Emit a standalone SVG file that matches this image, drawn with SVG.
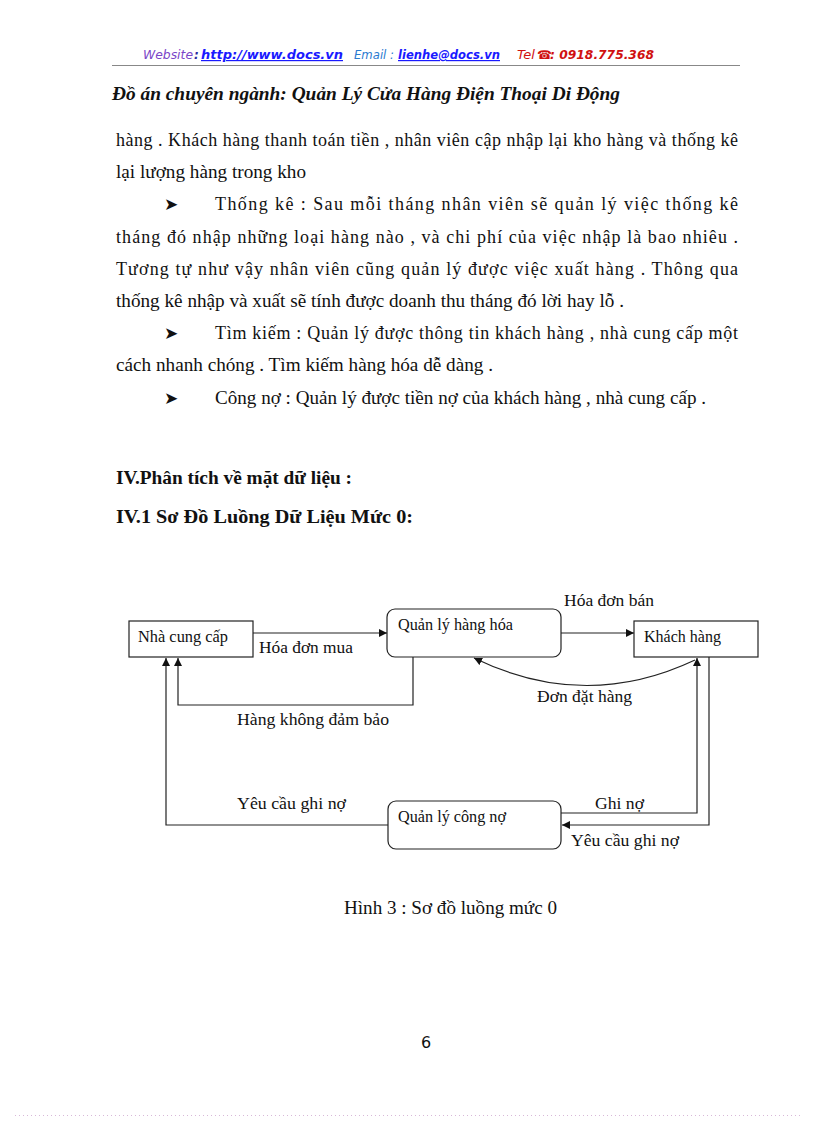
<svg xmlns="http://www.w3.org/2000/svg" width="816" height="1123" viewBox="0 0 816 1123">
<style>
.body{font-family:"Liberation Serif","Times New Roman",serif;font-size:18px;fill:#111}
.head{font-family:"Liberation Serif","Times New Roman",serif;font-size:18px;font-weight:bold;fill:#111}
.lbl{font-family:"Liberation Serif","Times New Roman",serif;font-size:16.5px;fill:#111}
.box{fill:#fff;stroke:#222;stroke-width:1.2}
.con{fill:none;stroke:#222;stroke-width:1.2}
.bul{font-family:"DejaVu Sans",sans-serif;font-size:17px;fill:#111}
.web{font-family:"DejaVu Sans",sans-serif;font-size:12px;font-style:italic}
</style>
<defs>
<marker id="arr" viewBox="0 0 10 10" refX="10" refY="5" markerWidth="8" markerHeight="8" markerUnits="userSpaceOnUse" orient="auto">
<path d="M0,0 L10,5 L0,10 z" fill="#111"/>
</marker>
</defs>
<rect width="816" height="1123" fill="#fff"/>

<!-- header -->
<g id="header">
<text class="web" x="143" y="59" fill="#7a45c8" textLength="50" lengthAdjust="spacingAndGlyphs">Website</text>
<text class="web" x="194" y="59" fill="#2a2aa0" font-weight="bold">:</text>
<text class="web" x="201" y="59" fill="#1a1aff" font-weight="bold" text-decoration="underline" textLength="142" lengthAdjust="spacingAndGlyphs">http://www.docs.vn </text>
<text class="web" x="354" y="59" fill="#2a7ad0" textLength="40" lengthAdjust="spacingAndGlyphs">Email :</text>
<text class="web" x="398" y="59" fill="#1a1aff" font-weight="bold" text-decoration="underline" textLength="102" lengthAdjust="spacingAndGlyphs">lienhe@docs.vn </text>
<text class="web" x="517" y="59" fill="#d01010" textLength="18" lengthAdjust="spacingAndGlyphs">Tel</text>
<text class="web" x="537" y="59" fill="#d01010" font-style="normal">☎</text>
<text class="web" x="550" y="59" fill="#d01010" font-weight="bold" textLength="104" lengthAdjust="spacingAndGlyphs">: 0918.775.368</text>
</g>
<line x1="112" y1="65.5" x2="740" y2="65.5" stroke="#888" stroke-width="1"/>
<text x="112" y="100" font-family="Liberation Serif,'Times New Roman',serif" font-size="19" font-weight="bold" font-style="italic" fill="#111" textLength="508" lengthAdjust="spacingAndGlyphs">Đồ án chuyên ngành: Quản Lý Cửa Hàng Điện Thoại Di Động</text>

<!-- body text -->
<text class="body" x="116" y="146" textLength="622" lengthAdjust="spacing">hàng . Khách hàng thanh toán tiền , nhân viên cập nhập lại kho hàng và thống kê</text>
<text class="body" x="116" y="178" textLength="190" lengthAdjust="spacingAndGlyphs">lại lượng hàng trong kho</text>
<text class="bul" x="164" y="210">➤</text>
<text class="body" x="215" y="210" textLength="523" lengthAdjust="spacing">Thống kê : Sau mỗi tháng nhân viên sẽ  quản lý việc thống  kê</text>
<text class="body" x="116" y="243" textLength="622" lengthAdjust="spacing">tháng đó nhập những loại hàng nào , và chi phí của việc nhập là bao nhiêu .</text>
<text class="body" x="116" y="275" textLength="622" lengthAdjust="spacing">Tương tự như vậy nhân viên  cũng quản lý được việc xuất hàng . Thông qua</text>
<text class="body" x="116" y="307" textLength="508" lengthAdjust="spacingAndGlyphs">thống kê nhập và xuất sẽ tính được doanh thu tháng đó lời hay lỗ .</text>
<text class="bul" x="164" y="339">➤</text>
<text class="body" x="215" y="339" textLength="523" lengthAdjust="spacing">Tìm kiếm : Quản lý được thông tin khách hàng  , nhà cung cấp một</text>
<text class="body" x="116" y="371" textLength="377" lengthAdjust="spacingAndGlyphs">cách nhanh chóng . Tìm kiếm hàng hóa dễ dàng .</text>
<text class="bul" x="164" y="404">➤</text>
<text class="body" x="215" y="404" textLength="491" lengthAdjust="spacingAndGlyphs">Công nợ : Quản lý được tiền nợ của khách hàng , nhà cung cấp .</text>

<text class="head" x="116" y="484" textLength="236" lengthAdjust="spacingAndGlyphs">IV.Phân tích về mặt dữ liệu :</text>
<text class="head" x="116" y="523" textLength="297" lengthAdjust="spacingAndGlyphs">IV.1 Sơ Đồ Luồng Dữ Liệu Mức 0:</text>

<!-- connectors -->
<g id="connectors">
<line class="con" x1="253" y1="633" x2="387" y2="633" marker-end="url(#arr)"/>
<line class="con" x1="561" y1="633" x2="634" y2="633" marker-end="url(#arr)"/>
<path class="con" d="M695,660 Q585,712 474,658" marker-end="url(#arr)"/>
<polyline class="con" points="413,657 413,705 178,705 178,658" marker-end="url(#arr)"/>
<polyline class="con" points="388,825 166,825 166,658" marker-end="url(#arr)"/>
<polyline class="con" points="561,813 697,813 697,658" marker-end="url(#arr)"/>
<polyline class="con" points="709,657 709,825 562,825" marker-end="url(#arr)"/>
<text class="lbl" x="259" y="653" textLength="94" lengthAdjust="spacingAndGlyphs">Hóa đơn mua</text>
<text class="lbl" x="564" y="606" textLength="90" lengthAdjust="spacingAndGlyphs">Hóa đơn bán</text>
<text class="lbl" x="537" y="702" textLength="95" lengthAdjust="spacingAndGlyphs">Đơn đặt hàng</text>
<text class="lbl" x="237" y="725" textLength="152" lengthAdjust="spacingAndGlyphs">Hàng không đảm bảo</text>
<text class="lbl" x="237" y="809" textLength="109" lengthAdjust="spacingAndGlyphs">Yêu cầu ghi nợ</text>
<text class="lbl" x="595" y="809" textLength="49" lengthAdjust="spacingAndGlyphs">Ghi nợ</text>
<text class="lbl" x="571" y="846" textLength="108" lengthAdjust="spacingAndGlyphs">Yêu cầu ghi nợ</text>
</g>

<!-- nodes -->
<g id="nha-cung-cap">
<rect class="box" x="129" y="621" width="124" height="36"/>
<text class="lbl" x="138" y="642" textLength="90" lengthAdjust="spacingAndGlyphs">Nhà cung cấp</text>
</g>
<g id="quan-ly-hang-hoa">
<rect class="box" x="387" y="609" width="174" height="48" rx="8"/>
<text class="lbl" x="398" y="630" textLength="115" lengthAdjust="spacingAndGlyphs">Quản lý hàng hóa</text>
</g>
<g id="khach-hang">
<rect class="box" x="634" y="621" width="124" height="36"/>
<text class="lbl" x="644" y="642" textLength="77" lengthAdjust="spacingAndGlyphs">Khách hàng</text>
</g>
<g id="quan-ly-cong-no">
<rect class="box" x="388" y="801" width="173" height="48" rx="8"/>
<text class="lbl" x="398" y="822" textLength="108" lengthAdjust="spacingAndGlyphs">Quản lý công nợ</text>
</g>

<text class="body" x="344" y="914" textLength="213" lengthAdjust="spacingAndGlyphs">Hình 3 : Sơ đồ luồng mức 0</text>
<text x="421" y="1048" font-family="DejaVu Sans,sans-serif" font-size="16" fill="#111">6</text>
<line x1="15" y1="1115.5" x2="800" y2="1115.5" stroke="#d8b8d8" stroke-width="1" stroke-dasharray="1,3"/>
</svg>
